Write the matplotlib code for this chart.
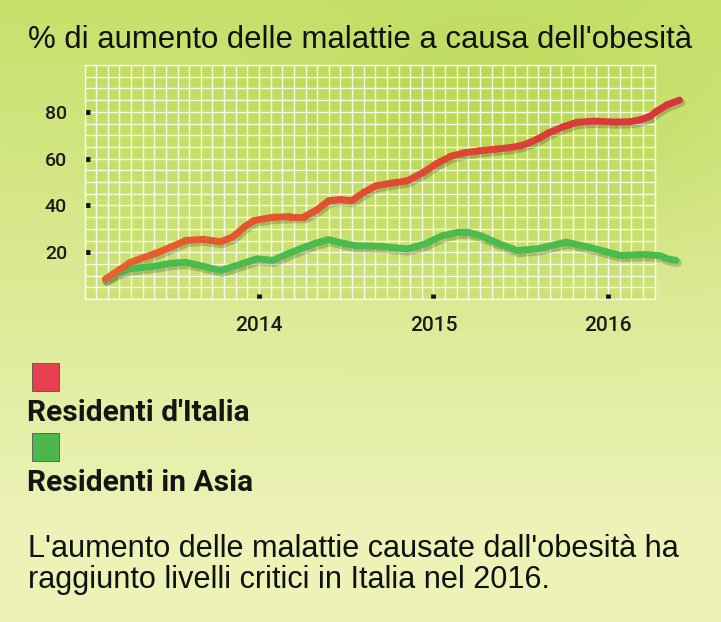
import numpy as np
import matplotlib
matplotlib.use("Agg")
import matplotlib.pyplot as plt
from matplotlib.collections import LineCollection
from matplotlib.colors import LinearSegmentedColormap
from matplotlib.patches import Rectangle
from matplotlib.ticker import MultipleLocator
from matplotlib.transforms import offset_copy

# dati
anni_italia = [2013.12, 2013.20, 2013.26, 2013.33, 2013.40, 2013.49, 2013.58, 2013.68, 2013.78,
               2013.85, 2013.92, 2013.97, 2014.08, 2014.18, 2014.26, 2014.33, 2014.40, 2014.47,
               2014.53, 2014.60, 2014.67, 2014.76, 2014.85, 2014.94, 2015.02, 2015.10, 2015.18,
               2015.26, 2015.35, 2015.44, 2015.50, 2015.55, 2015.60, 2015.66, 2015.74, 2015.82,
               2015.92, 2016.05, 2016.13, 2016.19, 2016.24, 2016.28, 2016.34, 2016.41]
italia = [8.5, 12.5, 15.5, 17.5, 19.3, 22.0, 25.0, 25.5, 24.5,
          26.5, 31.0, 33.5, 34.9, 35.2, 35.2, 38.0, 42.0, 42.5,
          42.0, 45.5, 48.4, 49.5, 50.5, 54.0, 58.0, 61.0, 62.5,
          63.3, 64.0, 64.7, 65.5, 66.8, 68.5, 71.0, 73.5, 75.5,
          76.0, 75.6, 75.8, 76.7, 78.0, 80.3, 83.0, 85.0]

anni_asia = [2013.12, 2013.20, 2013.26, 2013.40, 2013.50, 2013.58, 2013.68, 2013.78, 2013.88,
             2013.99, 2014.08, 2014.17, 2014.26, 2014.33, 2014.40, 2014.47, 2014.55, 2014.70,
             2014.85, 2014.95, 2015.05, 2015.14, 2015.20, 2015.27, 2015.38, 2015.48, 2015.60,
             2015.76, 2015.90, 2016.07, 2016.21, 2016.30, 2016.34, 2016.39]
asia = [8.5, 11.5, 12.9, 14.0, 15.3, 15.7, 14.0, 12.2, 14.5,
        17.2, 16.5, 19.5, 22.1, 24.0, 25.4, 24.0, 22.8, 22.5,
        21.4, 23.5, 27.0, 28.5, 28.5, 27.0, 23.5, 20.7, 21.5,
        24.3, 22.0, 18.6, 19.0, 18.5, 17.2, 16.5]

tick_anni = [2014, 2015, 2016]
tick_valori = [20, 40, 60, 80]

titolo = "% di aumento delle malattie a causa dell'obesità"
serie = ["Residenti d'Italia", "Residenti in Asia"]
nota = ["L'aumento delle malattie causate dall'obesità ha",
        "raggiunto livelli critici in Italia nel 2016."]

W, H = 721, 622
fig = plt.figure(figsize=(W / 100, H / 100), dpi=100)

# sfondo sfumato verde -> giallo chiaro
bg = fig.add_axes([0, 0, 1, 1], zorder=-10)
yy, xx = np.mgrid[0:1:300j, 0:1:350j]
top = np.array([0.78, 0.88, 0.42])
bot = np.array([0.93, 0.95, 0.72])
t = np.clip(yy / 0.85, 0, 1)[..., None]
img = top * (1 - t) + bot * t
blob = np.exp(-(((xx - 0.68) / 0.28) ** 2 + ((yy - 0.2) / 0.18) ** 2))[..., None]
img = img * (1 - 0.3 * blob) + np.array([0.62, 0.78, 0.12]) * 0.3 * blob
bg.imshow(img, aspect="auto", extent=[0, 1, 1, 0])
bg.set_xlim(0, 1)
bg.set_ylim(1, 0)
bg.axis("off")

ax = fig.add_axes([84.5 / W, 1 - 299 / H, 570 / W, 234 / H])
ax.set_facecolor((0.70, 0.84, 0.25, 0.35))
ax.set_xlim(2013.0, 2013.0 + 49 / 15)
ax.set_ylim(0, 100)
ax.xaxis.set_minor_locator(MultipleLocator(1 / 15))
ax.yaxis.set_minor_locator(MultipleLocator(5))
ax.grid(which="both", color="white", lw=1.0, alpha=0.85)
ax.set_axisbelow(True)
for s in ax.spines.values():
    s.set_color((1, 1, 1, 0.85))
    s.set_linewidth(1.0)
ax.set_xticks(tick_anni)
ax.set_xticklabels([str(a) for a in tick_anni])
ax.set_yticks(tick_valori)
ax.set_yticklabels([str(v) for v in tick_valori])
ax.tick_params(which="major", direction="in", length=3.5, width=3.5, color="#111111")
ax.tick_params(which="minor", length=0)
ax.tick_params(axis="x", pad=12, labelsize=15)
ax.tick_params(axis="y", pad=12.5, labelsize=14)
for lab in ax.get_xticklabels() + ax.get_yticklabels():
    lab.set_fontfamily("Roboto")
    lab.set_fontweight("medium")
    lab.set_color("#1a1a1a")

ombra = offset_copy(ax.transData, fig=fig, x=1.5, y=-2.5, units="dots")
for xs, ys in [(anni_asia, asia), (anni_italia, italia)]:
    ax.plot(xs, ys, color="black", alpha=0.18, lw=6, solid_capstyle="round",
            solid_joinstyle="round", transform=ombra, clip_on=False, zorder=2)

ax.plot(anni_asia, asia, color="#4cbb4e", lw=5, solid_capstyle="round", solid_joinstyle="round",
        clip_on=False, zorder=3)

pts = np.column_stack([anni_italia, italia]).reshape(-1, 1, 2)
segs = np.concatenate([pts[:-1], pts[1:]], axis=1)
cmap = LinearSegmentedColormap.from_list("rosso", ["#e6622c", "#e04a32", "#d8343c"])
lc = LineCollection(segs, cmap=cmap, linewidths=5, capstyle="round", joinstyle="round",
                    clip_on=False, zorder=4)
lc.set_array(np.linspace(0, 1, len(segs)))
ax.add_collection(lc)

fig.text(28 / W, 1 - 48 / H, titolo, fontsize=22.4, family="Liberation Sans", color="#111111", va="baseline")

colori = ["#e8404e", "#4cb84c"]
for i, (nome, c) in enumerate(zip(serie, colori)):
    y0 = 391 + i * 70
    fig.patches.append(Rectangle((32 / W, 1 - y0 / H), 27 / W, 28 / H, transform=fig.transFigure,
                                 facecolor=c, edgecolor="#555555", lw=0.6))
    fig.text(27 / W, 1 - (421 + i * 70) / H, nome, fontsize=21.5, family="Roboto", weight="bold",
             color="#151515", va="baseline")

for i, riga in enumerate(nota):
    fig.text(28 / W, 1 - (557 + i * 31) / H, riga, fontsize=22.1, family="Liberation Sans",
             color="#111111", va="baseline")

fig.savefig("out.png", dpi=100)
